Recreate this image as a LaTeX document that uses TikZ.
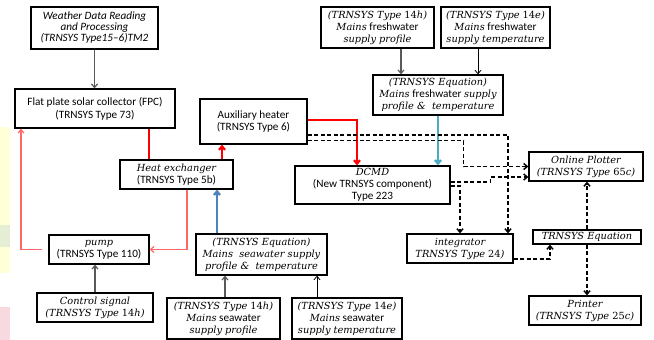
\documentclass[tikz,border=0pt]{standalone}
\usepackage{fontspec}
\setmainfont{Carlito}
\newfontfamily\camfont{DejaVu Serif}
\newcommand{\cam}{\camfont\itshape\fontsize{9.8}{12}\selectfont}
\usetikzlibrary{arrows.meta}
\definecolor{tintY}{HTML}{FFFFD8}
\definecolor{tintG}{HTML}{E6EDD5}
\definecolor{tintP}{HTML}{F9D9E0}
\definecolor{grayln}{HTML}{595959}
\definecolor{pinkln}{HTML}{FF6666}
\definecolor{blueln}{HTML}{4F81BD}
\definecolor{tealln}{HTML}{4BACC6}
\tikzset{
  box/.style={draw=black, line width=1.3pt, fill=white, align=center, inner sep=0pt,
    font=\fontsize{11.2}{12}\selectfont},
  tip/.style={-{Straight Barb[length=3.5pt,width=6pt]}},
  grayarr/.style={tip, draw=grayln, line width=1.2pt},
  thinarr/.style={tip, draw=black, line width=0.8pt},
  redln/.style={draw=red, line width=2.2pt},
  pinkarr/.style={tip, draw=pinkln, line width=1.2pt},
  bluearr/.style={tip, draw=blueln, line width=2.4pt},
  tealarr/.style={tip, draw=tealln, line width=2.4pt},
  dasharr/.style={tip, draw=black, line width=1.5pt, dash pattern=on 4pt off 2.5pt}
}
\begin{document}
\begin{tikzpicture}[x=1pt,y=-1pt]
\useasboundingbox (0,0) rectangle (654,340);
\fill[tintY] (0,127) rectangle (10,273);
\fill[tintG] (0,225) rectangle (10,247);
\fill[tintP] (0,307) rectangle (10,340);

\node[box, minimum width=127, minimum height=42, font=\fontsize{11.2}{11}\selectfont\itshape] (weather) at (94.5,28)
  {Weather Data Reading\\and Processing\\(TRNSYS Type15--6)TM2};
\node[box, minimum width=160, minimum height=39, font=\fontsize{11.2}{13}\selectfont] (fpc) at (95,108.5)
  {Flat plate solar collector (FPC)\\(TRNSYS Type 73)};
\node[box, minimum width=107, minimum height=45] (aux) at (253.5,121.5)
  {Auxiliary heater\\(TRNSYS Type 6)};
\node[box, minimum width=113, minimum height=29] (hx) at (176.5,174.5)
  {{\cam Heat exchanger}\\(TRNSYS Type 5b)};
\node[box, minimum width=100, minimum height=29] (pump) at (99,249.5)
  {{\cam pump}\\(TRNSYS Type 110)};
\node[box, minimum width=116, minimum height=29] (ctrl) at (95,307.5)
  {{\cam Control signal}\\{\cam (TRNSYS Type \textup{14}h)}};
\node[box, minimum width=131, minimum height=41] (seq) at (261.5,254.5)
  {{\cam (TRNSYS Equation)}\\{\cam Mains~ seawater supply}\\{\cam profile \&~ temperature}};
\node[box, minimum width=113, minimum height=41] (sprof) at (223.5,318.5)
  {{\cam (TRNSYS Type \textup{14}h)}\\{\cam Mains} seawater\\{\cam supply profile}};
\node[box, minimum width=110, minimum height=41] (stemp) at (347,318.5)
  {{\cam (TRNSYS Type \textup{14}e)}\\{\cam Mains} seawater\\{\cam supply temperature}};
\node[box, minimum width=113, minimum height=41] (fprof) at (377.5,27.5)
  {{\cam (TRNSYS Type \textup{14}h)}\\{\cam Mains} freshwater\\{\cam supply profile}};
\node[box, minimum width=109, minimum height=41] (ftemp) at (495.5,27.5)
  {{\cam (TRNSYS Type \textup{14}e)}\\{\cam Mains} freshwater\\{\cam supply temperature}};
\node[box, minimum width=130, minimum height=40] (feq) at (438,95)
  {{\cam (TRNSYS Equation)}\\{\cam Mains} freshwater {\cam supply}\\{\cam profile \&~ temperature}};
\node[box, minimum width=155, minimum height=38] (dcmd) at (372.5,185)
  {{\cam DCMD}\\(New TRNSYS component)\\Type 223};
\node[box, minimum width=114, minimum height=29] (plot) at (586,166.5)
  {{\cam Online Plotter}\\{\cam (TRNSYS Type \textup{65}c)}};
\node[box, minimum width=106, minimum height=29] (integ) at (460,248.5)
  {{\cam integrator}\\{\cam TRNSYS Type \textup{24})}};
\node[box, minimum width=108, minimum height=14] (teq) at (587,237)
  {{\cam TRNSYS Equation}};
\node[box, minimum width=112, minimum height=29] (printer) at (585,310.5)
  {{\cam Printer}\\{\cam (TRNSYS Type \textup{25}c)}};

% gray / thin arrows
\draw[grayarr] (weather.south) -- (weather.south |- fpc.north);
\draw[grayarr] (ctrl.north) -- (ctrl.north |- pump.south);
\draw[grayarr] ([xshift=1.5pt]sprof.north) -- ([xshift=1.5pt]sprof.north |- seq.south);
\draw[thinarr] ([xshift=-30pt]stemp.north) -- ([xshift=-30pt]stemp.north |- seq.south);
\draw[grayarr] ([xshift=23.5pt]fprof.south) -- ([xshift=23.5pt]fprof.south |- feq.north);
\draw[thinarr] ([xshift=-17.5pt]ftemp.south) -- ([xshift=-17.5pt]ftemp.south |- feq.north);

% red loop
\draw[redln] ([xshift=54pt]fpc.south) -- ([xshift=54pt]fpc.south |- hx.north);
\draw[redln, tip] ([xshift=45.5pt]hx.north) -- ([xshift=45.5pt]hx.north |- aux.south);
\draw[redln, tip] ([yshift=1.5pt]aux.east) -| ([xshift=-15.5pt]dcmd.north);
\draw[pinkarr] ([xshift=10.5pt]hx.south) |- (pump.east);
\draw[pinkarr] ([xshift=-6pt]pump.west) -| ([xshift=-74pt]fpc.south);

% water supply
\draw[bluearr] ([xshift=-44.5pt]seq.north) -- ([xshift=-44.5pt]seq.north |- hx.south);
\draw[tealarr] (feq.south) -- (feq.south |- dcmd.north);

% dashed signals
\draw[dasharr] ([yshift=-13.5pt]aux.east) -| ([xshift=48pt]integ.north);
\draw[dasharr] ([yshift=-19pt]aux.east) -- ++(156,0) |- (plot.west);
\draw[dasharr] ([yshift=3pt]dcmd.east) -- ++(40,0) |- ([yshift=-10.5pt]plot.west);
\draw[dasharr] ([yshift=-1pt]dcmd.east) -| (integ.north);
\draw[dasharr] ([yshift=-10.5pt]integ.east) -| ([xshift=-37pt]teq.south);
\draw[dasharr] (teq.north) -- (teq.north |- plot.south);
\draw[dasharr] (teq.south) -- (teq.south |- printer.north);
\end{tikzpicture}
\end{document}
